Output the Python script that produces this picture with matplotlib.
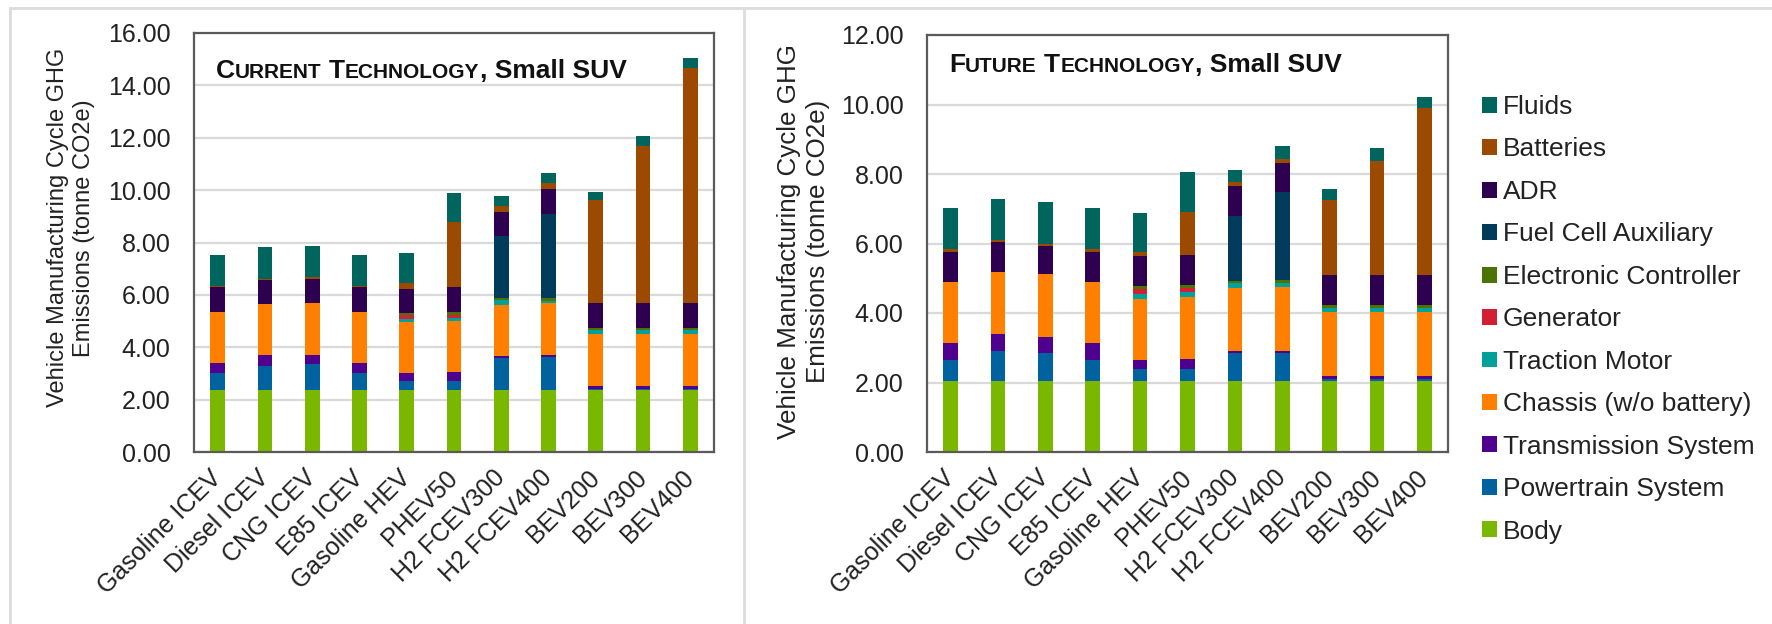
import matplotlib
matplotlib.use("Agg")
import matplotlib.pyplot as plt
import numpy as np
from matplotlib.offsetbox import TextArea, HPacker, AnchoredOffsetbox
from matplotlib.patches import Patch
from matplotlib.lines import Line2D

vehicles = ["Gasoline ICEV", "Diesel ICEV", "CNG ICEV", "E85 ICEV", "Gasoline HEV",
            "PHEV50", "H2 FCEV300", "H2 FCEV400", "BEV200", "BEV300", "BEV400"]

components = ["Body", "Powertrain System", "Transmission System", "Chassis (w/o battery)",
              "Traction Motor", "Generator", "Electronic Controller", "Fuel Cell Auxiliary",
              "ADR", "Batteries", "Fluids"]

colors = ["#7AB800", "#0063A0", "#4E008E", "#FF7F00", "#00A19B", "#D31F33",
          "#4A7300", "#003B5C", "#2D0050", "#9C4A00", "#00655D"]

# tonne CO2e per component (rows = vehicles, columns = components)
current_tech = [
    [2.35, 0.65, 0.41, 1.93, 0.00, 0.00, 0.00, 0.00, 0.95, 0.05, 1.20],
    [2.35, 0.93, 0.41, 1.95, 0.00, 0.00, 0.00, 0.00, 0.93, 0.05, 1.20],
    [2.35, 1.00, 0.37, 1.96, 0.00, 0.00, 0.00, 0.00, 0.94, 0.08, 1.16],
    [2.35, 0.65, 0.41, 1.93, 0.00, 0.00, 0.00, 0.00, 0.95, 0.05, 1.20],
    [2.35, 0.35, 0.30, 1.95, 0.14, 0.13, 0.09, 0.00, 0.93, 0.23, 1.14],
    [2.35, 0.35, 0.34, 1.96, 0.10, 0.15, 0.09, 0.00, 0.95, 2.51, 1.10],
    [2.35, 1.23, 0.08, 1.96, 0.17, 0.00, 0.08, 2.36, 0.94, 0.24, 0.36],
    [2.35, 1.26, 0.08, 1.99, 0.10, 0.00, 0.09, 3.21, 0.97, 0.23, 0.36],
    [2.35, 0.07, 0.09, 1.98, 0.17, 0.00, 0.07, 0.00, 0.95, 3.94, 0.32],
    [2.35, 0.07, 0.09, 1.98, 0.17, 0.00, 0.07, 0.00, 0.95, 6.00, 0.37],
    [2.35, 0.07, 0.09, 1.98, 0.17, 0.00, 0.07, 0.00, 0.95, 8.99, 0.36],
]

future_tech = [
    [2.03, 0.62, 0.50, 1.75, 0.00, 0.00, 0.00, 0.00, 0.86, 0.07, 1.18],
    [2.03, 0.88, 0.50, 1.77, 0.00, 0.00, 0.00, 0.00, 0.86, 0.06, 1.19],
    [2.03, 0.83, 0.46, 1.80, 0.00, 0.00, 0.00, 0.00, 0.82, 0.06, 1.20],
    [2.03, 0.62, 0.50, 1.75, 0.00, 0.00, 0.00, 0.00, 0.86, 0.07, 1.18],
    [2.03, 0.37, 0.25, 1.76, 0.15, 0.13, 0.09, 0.00, 0.86, 0.12, 1.12],
    [2.03, 0.35, 0.30, 1.77, 0.15, 0.13, 0.08, 0.00, 0.86, 1.25, 1.13],
    [2.03, 0.81, 0.08, 1.81, 0.13, 0.00, 0.07, 1.87, 0.86, 0.12, 0.33],
    [2.03, 0.81, 0.08, 1.84, 0.11, 0.00, 0.09, 2.51, 0.85, 0.12, 0.37],
    [2.03, 0.08, 0.08, 1.83, 0.13, 0.00, 0.09, 0.00, 0.85, 2.17, 0.32],
    [2.03, 0.08, 0.08, 1.83, 0.13, 0.00, 0.09, 0.00, 0.85, 3.29, 0.37],
    [2.03, 0.08, 0.08, 1.83, 0.13, 0.00, 0.09, 0.00, 0.85, 4.81, 0.33],
]

y_ticks_current = [0, 2, 4, 6, 8, 10, 12, 14, 16]
y_ticks_future = [0, 2, 4, 6, 8, 10, 12]

TEXT = "#222222"
FONT = "Liberation Sans"
plt.rcParams["font.family"] = FONT

fig = plt.figure(figsize=(17.72, 6.24), dpi=100)
W, H = 1772, 624


def px_axes(x0, y0, x1, y1):
    return fig.add_axes([x0 / W, 1 - y1 / H, (x1 - x0) / W, (y1 - y0) / H])


def draw_panel(ax, data, yticks, word1, word2, label_size, label_y):
    vals = np.array(data)
    x = np.arange(len(vehicles))
    bottom = np.zeros(len(vehicles))
    for j, comp in enumerate(components):
        ax.bar(x, vals[:, j], width=0.31, bottom=bottom, color=colors[j],
               edgecolor="none", zorder=3)
        bottom += vals[:, j]
    ax.set_xlim(-0.5, len(vehicles) - 0.5)
    ax.set_ylim(yticks[0], yticks[-1])
    ax.set_yticks(yticks)
    ax.set_yticklabels([f"{v:.2f}" for v in yticks])
    ax.set_xticks(x)
    ax.set_xticklabels(vehicles, rotation=45, ha="right", va="center",
                       rotation_mode="anchor")
    ax.tick_params(axis="both", length=0, labelsize=18, labelcolor=TEXT)
    ax.tick_params(axis="y", pad=17)
    ax.tick_params(axis="x", pad=16)
    ax.grid(axis="y", color="#D9D9D9", linewidth=1.6, zorder=0)
    for s in ax.spines.values():
        s.set_color("#5A5A5A")
        s.set_linewidth(1.6)
        s.set_zorder(4)
    ax.text(-0.237, label_y, "Vehicle Manufacturing Cycle GHG\nEmissions (tonne CO2e)",
            rotation=90, ha="center", va="center", transform=ax.transAxes,
            fontsize=label_size, color=TEXT, linespacing=1.22)

    # small-caps bold heading inside the plot area
    big = dict(fontsize=19, fontweight="bold", color="#111111")
    small = dict(fontsize=15, fontweight="bold", color="#111111")
    parts = [
        TextArea(word1[0], textprops=big),
        TextArea(word1[1:].upper(), textprops=small),
        TextArea(" ", textprops=big),
        TextArea(word2[0], textprops=big),
        TextArea(word2[1:].upper(), textprops=small),
        TextArea(", Small SUV", textprops=big),
    ]
    return HPacker(children=parts, align="baseline", pad=0, sep=0)


ax1 = px_axes(194, 33, 714, 452)
box1 = draw_panel(ax1, current_tech, y_ticks_current, "Current", "Technology", 17, 0.535)
ab1 = AnchoredOffsetbox(loc="lower left", child=box1, pad=0, borderpad=0, frameon=False,
                        bbox_to_anchor=(216 / W, 1 - 83 / H), bbox_transform=fig.transFigure)
fig.add_artist(ab1)

ax2 = px_axes(927, 35, 1448, 452)
box2 = draw_panel(ax2, future_tech, y_ticks_future, "Future", "Technology", 18.7, 0.505)
ab2 = AnchoredOffsetbox(loc="lower left", child=box2, pad=0, borderpad=0, frameon=False,
                        bbox_to_anchor=(949 / W, 1 - 77 / H), bbox_transform=fig.transFigure)
fig.add_artist(ab2)

# legend, top entry = top of stack
handles = [Patch(facecolor=colors[j], edgecolor="none", label=components[j])
           for j in range(len(components))][::-1]
fig.legend(handles=handles, loc="upper left", bbox_to_anchor=(1482 / W, 1 - 95 / H),
           frameon=False, fontsize=19, labelcolor=TEXT, handlelength=0.55,
           handleheight=0.55, handletextpad=0.25, labelspacing=0.70, borderpad=0,
           borderaxespad=0)

# light panel borders
border = "#DCDCDC"
fig.add_artist(Line2D([10 / W, 1], [1 - 8 / H, 1 - 8 / H], color=border, lw=2,
                      transform=fig.transFigure))
fig.add_artist(Line2D([10 / W, 10 / W], [0, 1 - 8 / H], color=border, lw=2,
                      transform=fig.transFigure))
fig.add_artist(Line2D([744 / W, 744 / W], [0, 1 - 8 / H], color=border, lw=2,
                      transform=fig.transFigure))

fig.savefig("out.png", dpi=100, facecolor="white")
